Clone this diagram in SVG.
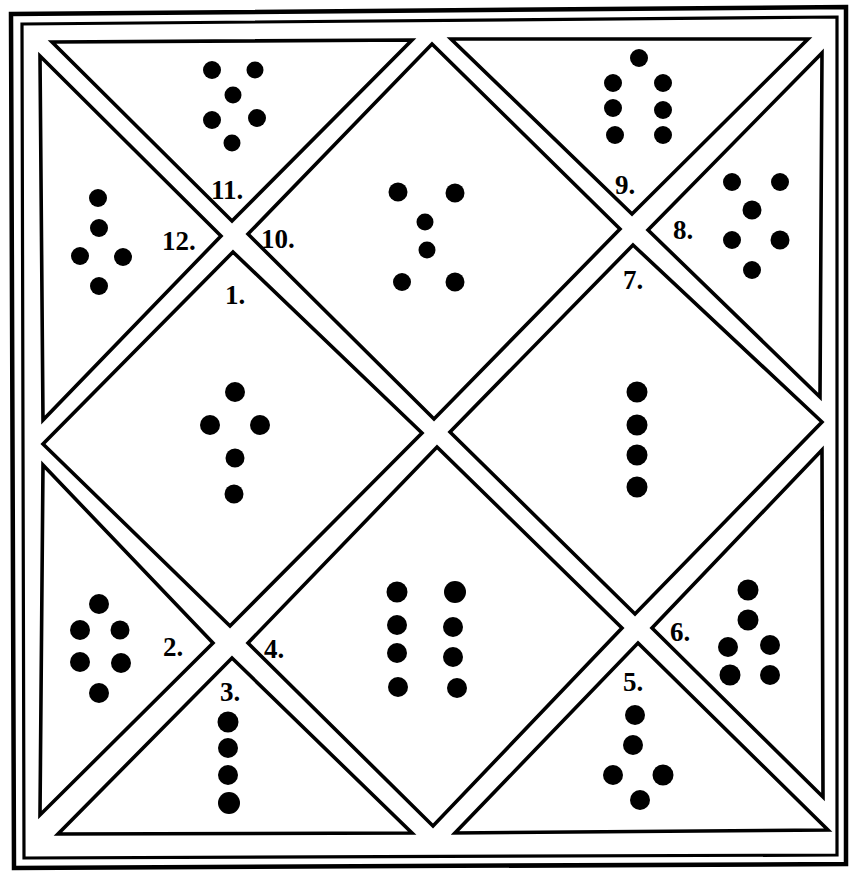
<svg xmlns="http://www.w3.org/2000/svg" width="849" height="875" viewBox="0 0 849 875">
<style>
.cell{fill:none;stroke:#000;stroke-width:3.6;stroke-linejoin:miter;stroke-miterlimit:10}
.lbl{font-family:"Liberation Serif","DejaVu Serif",serif;font-size:27px;font-weight:bold;fill:#000}
circle{fill:#000}
</style>
<rect x="0" y="0" width="849" height="875" fill="#fff"/>
<g id="frame" fill="none" stroke="#000">
<polygon points="11,14 846,7 846,864 14,868" stroke-width="4.5"/>
<polygon points="22,24 837,17 837,855 24,858" stroke-width="3.2"/>
</g>
<g id="connectors"></g>
<g id="house11">
<polygon class="cell" points="52,42 412,40 232,221"/>
<text class="lbl" x="211" y="199">11.</text>
<circle cx="212" cy="70" r="9"/><circle cx="255" cy="70" r="8.5"/>
<circle cx="233" cy="95" r="8.5"/>
<circle cx="212" cy="120" r="9"/><circle cx="257" cy="118" r="9"/>
<circle cx="232" cy="143" r="8.5"/>
</g>
<g id="house12">
<polygon class="cell" points="40,56 221,236 43,420"/>
<text class="lbl" x="162" y="250">12.</text>
<circle cx="98" cy="198" r="9"/>
<circle cx="99" cy="228" r="9"/>
<circle cx="80" cy="256" r="9"/><circle cx="123" cy="257" r="9"/>
<circle cx="99" cy="286" r="9"/>
</g>
<g id="house10">
<polygon class="cell" points="432,44 620,229 434,419 248,234"/>
<text class="lbl" x="261" y="248">10.</text>
<circle cx="398" cy="192" r="9.5"/><circle cx="455" cy="193" r="9.5"/>
<circle cx="425" cy="222" r="8.5"/>
<circle cx="427" cy="250" r="8.5"/>
<circle cx="402" cy="282" r="9"/><circle cx="455" cy="282" r="9.5"/>
</g>
<g id="house9">
<polygon class="cell" points="451,39 808,39 632,214"/>
<text class="lbl" x="615" y="194">9.</text>
<circle cx="639" cy="58" r="9"/>
<circle cx="613" cy="83" r="9"/><circle cx="663" cy="83" r="9"/>
<circle cx="613" cy="108" r="9"/><circle cx="663" cy="110" r="9"/>
<circle cx="615" cy="135" r="9"/><circle cx="663" cy="135" r="9"/>
</g>
<g id="house8">
<polygon class="cell" points="822,53 820,397 648,230"/>
<text class="lbl" x="673" y="239">8.</text>
<circle cx="732" cy="182" r="9"/><circle cx="780" cy="182" r="9"/>
<circle cx="752" cy="210" r="9.5"/>
<circle cx="732" cy="240" r="9"/><circle cx="780" cy="240" r="9.5"/>
<circle cx="752" cy="270" r="9"/>
</g>
<g id="house1">
<polygon class="cell" points="233,252 422,433 230,626 43,444"/>
<text class="lbl" x="225" y="304">1.</text>
<circle cx="235" cy="392" r="10"/>
<circle cx="210" cy="425" r="10"/><circle cx="260" cy="425" r="10"/>
<circle cx="235" cy="458" r="9.5"/>
<circle cx="234" cy="494" r="9.5"/>
</g>
<g id="house7">
<polygon class="cell" points="633,245 822,422 635,614 450,432"/>
<text class="lbl" x="623" y="289">7.</text>
<circle cx="637" cy="392" r="10.5"/>
<circle cx="637" cy="425" r="10.5"/>
<circle cx="637" cy="455" r="10.5"/>
<circle cx="637" cy="487" r="10.5"/>
</g>
<g id="house2">
<polygon class="cell" points="43,465 213,643 40,815"/>
<text class="lbl" x="163" y="656">2.</text>
<circle cx="99" cy="604" r="10"/>
<circle cx="80" cy="630" r="10"/><circle cx="120" cy="630" r="9.5"/>
<circle cx="80" cy="662" r="10"/><circle cx="121" cy="663" r="10"/>
<circle cx="99" cy="693" r="10"/>
</g>
<g id="house4">
<polygon class="cell" points="437,447 622,628 433,826 248,643"/>
<text class="lbl" x="264" y="658">4.</text>
<circle cx="397" cy="592" r="10.5"/><circle cx="455" cy="592" r="11"/>
<circle cx="397" cy="625" r="10"/><circle cx="453" cy="627" r="10"/>
<circle cx="397" cy="653" r="10"/><circle cx="453" cy="657" r="10"/>
<circle cx="398" cy="687" r="10"/><circle cx="457" cy="688" r="10"/>
</g>
<g id="house3">
<polygon class="cell" points="232,658 412,833 58,834"/>
<text class="lbl" x="220" y="701">3.</text>
<circle cx="228" cy="722" r="10.5"/>
<circle cx="228" cy="748" r="10"/>
<circle cx="228" cy="775" r="10"/>
<circle cx="229" cy="803" r="11"/>
</g>
<g id="house6">
<polygon class="cell" points="822,450 823,797 652,628"/>
<text class="lbl" x="670" y="641">6.</text>
<circle cx="748" cy="590" r="10.5"/>
<circle cx="748" cy="620" r="10.5"/>
<circle cx="728" cy="647" r="10"/><circle cx="770" cy="645" r="10"/>
<circle cx="730" cy="675" r="10.5"/><circle cx="770" cy="675" r="10"/>
</g>
<g id="house5">
<polygon class="cell" points="638,643 828,830 455,833"/>
<text class="lbl" x="623" y="691">5.</text>
<circle cx="635" cy="715" r="10"/>
<circle cx="633" cy="745" r="10"/>
<circle cx="613" cy="775" r="10"/><circle cx="663" cy="775" r="10.5"/>
<circle cx="640" cy="800" r="10"/>
</g>
</svg>
